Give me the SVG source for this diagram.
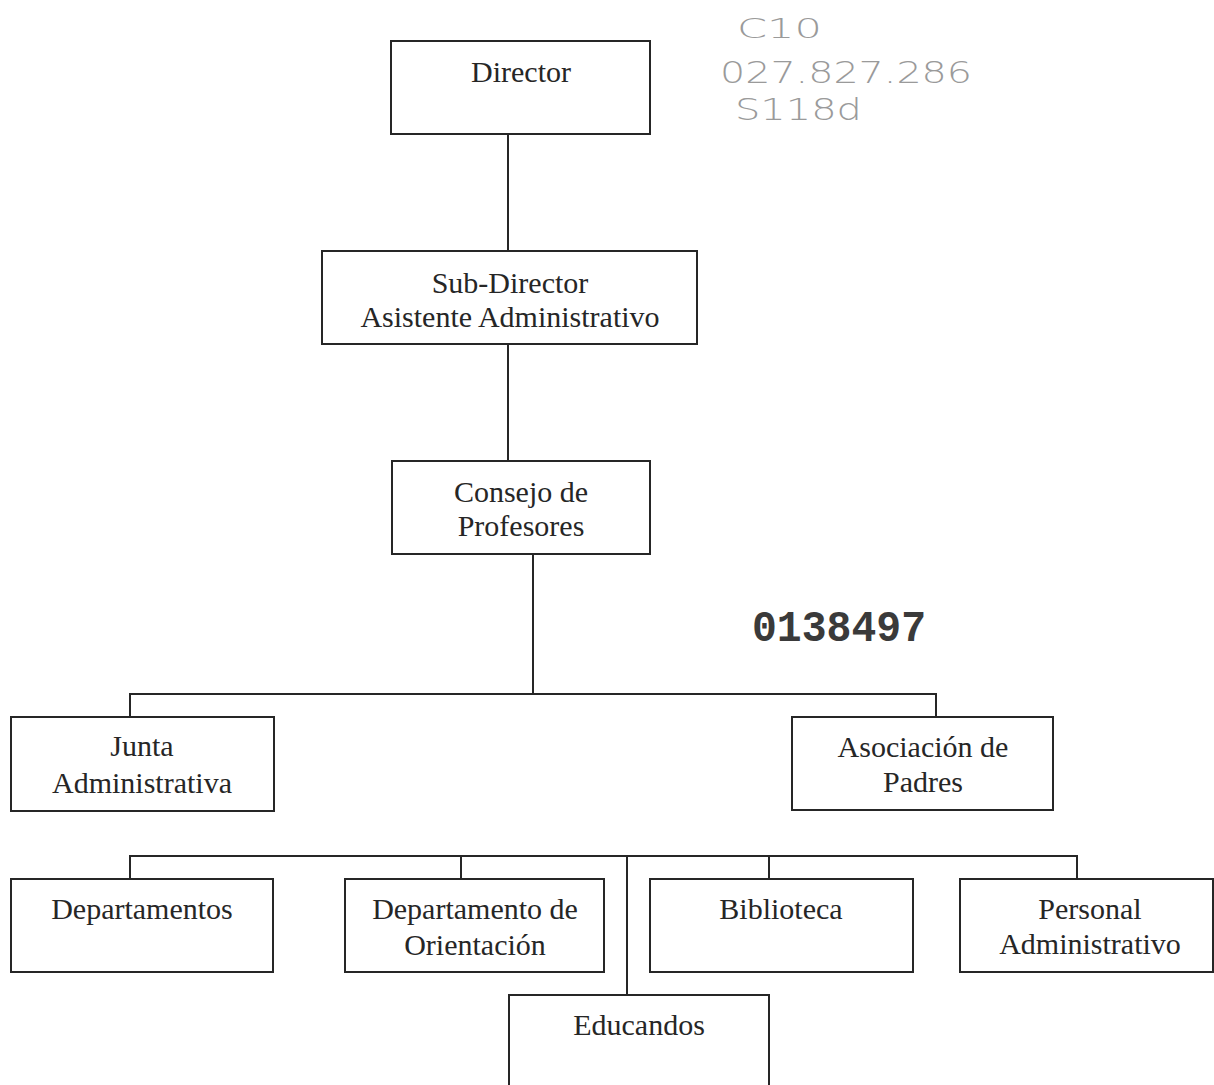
<svg xmlns="http://www.w3.org/2000/svg" width="1214" height="1085" viewBox="0 0 1214 1085">
<style>
  .box { fill: #ffffff; stroke: #262626; stroke-width: 2; }
  .lbl { font-family: "Liberation Serif", "Times New Roman", serif; font-size: 30px; fill: #262626; text-anchor: middle; }
  .conn { fill: none; stroke: #262626; stroke-width: 2; }
  .hand { font-family: "DejaVu Sans", sans-serif; font-weight: 200; fill: #9a9a9a; }
  .stamp { font-family: "Liberation Mono", "Courier New", monospace; font-weight: bold; font-size: 44px; fill: #3a3a3a; }
</style>
<rect width="1214" height="1085" fill="#ffffff"/>

<g id="connectors">
  <path class="conn" d="M508 134 V251"/>
  <path class="conn" d="M508 344 V461"/>
  <path class="conn" d="M533 554 V694"/>
  <path class="conn" d="M130 717 V694 H936 V717"/>
  <path class="conn" d="M130 879 V856 H1077 V879"/>
  <path class="conn" d="M461 856 V879"/>
  <path class="conn" d="M627 856 V995"/>
  <path class="conn" d="M769 856 V879"/>
</g>

<g id="director">
  <rect class="box" x="391" y="41" width="259" height="93"/>
  <text class="lbl" x="521" y="82">Director</text>
</g>
<g id="subdirector">
  <rect class="box" x="322" y="251" width="375" height="93"/>
  <text class="lbl" x="510" y="293">Sub-Director</text>
  <text class="lbl" x="510" y="327">Asistente Administrativo</text>
</g>
<g id="consejo">
  <rect class="box" x="392" y="461" width="258" height="93"/>
  <text class="lbl" x="521" y="502">Consejo de</text>
  <text class="lbl" x="521" y="536">Profesores</text>
</g>
<g id="junta">
  <rect class="box" x="11" y="717" width="263" height="94"/>
  <text class="lbl" x="142" y="756">Junta</text>
  <text class="lbl" x="142" y="793">Administrativa</text>
</g>
<g id="asociacion">
  <rect class="box" x="792" y="717" width="261" height="93"/>
  <text class="lbl" x="923" y="757">Asociación de</text>
  <text class="lbl" x="923" y="792">Padres</text>
</g>
<g id="departamentos">
  <rect class="box" x="11" y="879" width="262" height="93"/>
  <text class="lbl" x="142" y="919">Departamentos</text>
</g>
<g id="orientacion">
  <rect class="box" x="345" y="879" width="259" height="93"/>
  <text class="lbl" x="475" y="919">Departamento de</text>
  <text class="lbl" x="475" y="955">Orientación</text>
</g>
<g id="biblioteca">
  <rect class="box" x="650" y="879" width="263" height="93"/>
  <text class="lbl" x="781" y="919">Biblioteca</text>
</g>
<g id="personal">
  <rect class="box" x="960" y="879" width="253" height="93"/>
  <text class="lbl" x="1090" y="919">Personal</text>
  <text class="lbl" x="1090" y="954">Administrativo</text>
</g>
<g id="educandos">
  <rect class="box" x="509" y="995" width="260" height="100"/>
  <text class="lbl" x="639" y="1035">Educandos</text>
</g>

<g id="annotations">
  <text class="hand" x="737" y="38" font-size="26" textLength="85" lengthAdjust="spacingAndGlyphs">C10</text>
  <text class="hand" x="720" y="83" font-size="30" textLength="252" lengthAdjust="spacingAndGlyphs">027.827.286</text>
  <text class="hand" x="735" y="120" font-size="30" textLength="127" lengthAdjust="spacingAndGlyphs">S118d</text>
  <text class="stamp" x="752" y="641" textLength="174" lengthAdjust="spacingAndGlyphs">0138497</text>
</g>
</svg>
